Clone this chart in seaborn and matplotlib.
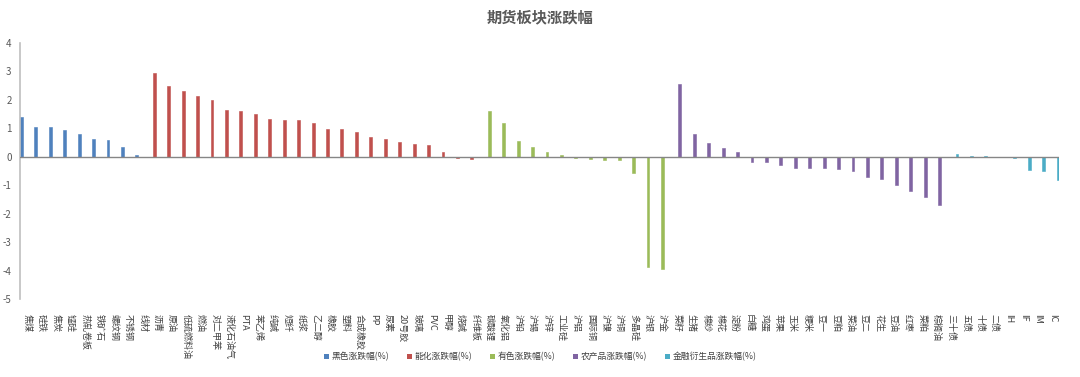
import matplotlib
matplotlib.use("Agg")
import matplotlib.pyplot as plt
import seaborn as sns
import pandas as pd
from matplotlib.patches import Patch

black_cats = ["焦煤", "硅铁", "焦炭", "锰硅", "热轧卷板", "铁矿石", "螺纹钢", "不锈钢", "线材"]
black_vals = [1.41, 1.04, 1.04, 0.95, 0.80, 0.63, 0.58, 0.34, 0.07]

energy_cats = ["沥青", "原油", "低硫燃料油", "燃油", "对二甲苯", "液化石油气", "PTA", "苯乙烯",
               "纯碱", "短纤", "纸浆", "乙二醇", "橡胶", "塑料", "合成橡胶", "PP", "尿素",
               "20号胶", "玻璃", "PVC", "甲醇", "烧碱", "纤维板"]
energy_vals = [2.94, 2.50, 2.32, 2.12, 2.01, 1.65, 1.61, 1.50, 1.32, 1.29, 1.29, 1.18, 0.98,
               0.97, 0.87, 0.70, 0.62, 0.51, 0.46, 0.42, 0.16, -0.03, -0.08]

metal_cats = ["碳酸锂", "氧化铝", "沪铅", "沪锡", "沪锌", "工业硅", "沪铝", "国际铜", "沪镍",
              "沪铜", "多晶硅", "沪银", "沪金"]
metal_vals = [1.61, 1.20, 0.54, 0.36, 0.16, 0.05, -0.05, -0.09, -0.11, -0.12, -0.56, -3.87, -3.93]

agri_cats = ["菜籽", "生猪", "棉纱", "棉花", "淀粉", "白糖", "鸡蛋", "苹果", "玉米", "粳米",
             "豆一", "豆粕", "菜油", "豆二", "花生", "豆油", "红枣", "菜粕", "棕榈油"]
agri_vals = [2.55, 0.81, 0.47, 0.30, 0.15, -0.18, -0.20, -0.29, -0.38, -0.40, -0.40, -0.42,
             -0.49, -0.72, -0.79, -0.99, -1.20, -1.42, -1.70]

fin_cats = ["三十债", "五债", "十债", "二债", "IH", "IF", "IM", "IC"]
fin_vals = [0.10, 0.03, 0.01, 0.005, -0.04, -0.47, -0.51, -0.81]

series_names = ["黑色涨跌幅(%)", "能化涨跌幅(%)", "有色涨跌幅(%)", "农产品涨跌幅(%)", "金融衍生品涨跌幅(%)"]
colors = ["#4F81BD", "#C0504D", "#9BBB59", "#8064A2", "#4BACC6"]

rows = []
for name, cats, vals in zip(series_names,
                            [black_cats, energy_cats, metal_cats, agri_cats, fin_cats],
                            [black_vals, energy_vals, metal_vals, agri_vals, fin_vals]):
    for c, v in zip(cats, vals):
        rows.append({"品种": c, "涨跌幅": v, "板块": name})
df = pd.DataFrame(rows)
order = list(df["品种"])

sns.set_theme(style="white")
plt.rcParams["font.family"] = ["Noto Sans CJK SC", "DejaVu Sans"]
plt.rcParams["axes.unicode_minus"] = False

fig = plt.figure(figsize=(10.8, 3.77), dpi=100)
ax = fig.add_axes([0.0185, 0.207, 0.9625, 0.679])

sns.barplot(data=df, x="品种", y="涨跌幅", hue="板块", order=order, hue_order=series_names,
            palette=colors, dodge=True, width=1.0, ax=ax, legend=False, errorbar=None,
            linewidth=0, saturation=1)
for p in ax.patches:
    p.set_edgecolor(p.get_facecolor())
    p.set_linewidth(0.4)

ax.set_ylim(-5, 4)
ax.set_yticks(range(-5, 5))
ax.set_xlim(-0.5, len(order) - 0.5)
ax.axhline(0, color="#868686", lw=1.0, zorder=3)
for s in ["top", "right", "bottom"]:
    ax.spines[s].set_visible(False)
ax.spines["left"].set_color("#BFBFBF")
ax.spines["left"].set_linewidth(1.2)
ax.set_xlabel("")
ax.set_ylabel("")
ax.tick_params(axis="y", labelsize=7, colors="#595959", length=0, pad=6)
ax.tick_params(axis="x", length=0, pad=11)
ax.set_xticks(range(len(order)))
ax.set_xticklabels(order, rotation=-90, fontsize=6.5, color="#404040", ha="center", va="top")

fig.suptitle("期货板块涨跌幅", x=0.5, y=0.975, fontsize=11, fontweight="bold", color="#595959")

handles = [Patch(facecolor=c, edgecolor="none") for c in colors]
fig.legend(handles, series_names, loc="center", bbox_to_anchor=(0.5, 0.053), ncol=5,
           frameon=False, fontsize=6.3, handlelength=0.6, handleheight=0.6, handletextpad=0.3,
           columnspacing=2.0, labelcolor="#404040")

fig.savefig("out.png", dpi=100)
